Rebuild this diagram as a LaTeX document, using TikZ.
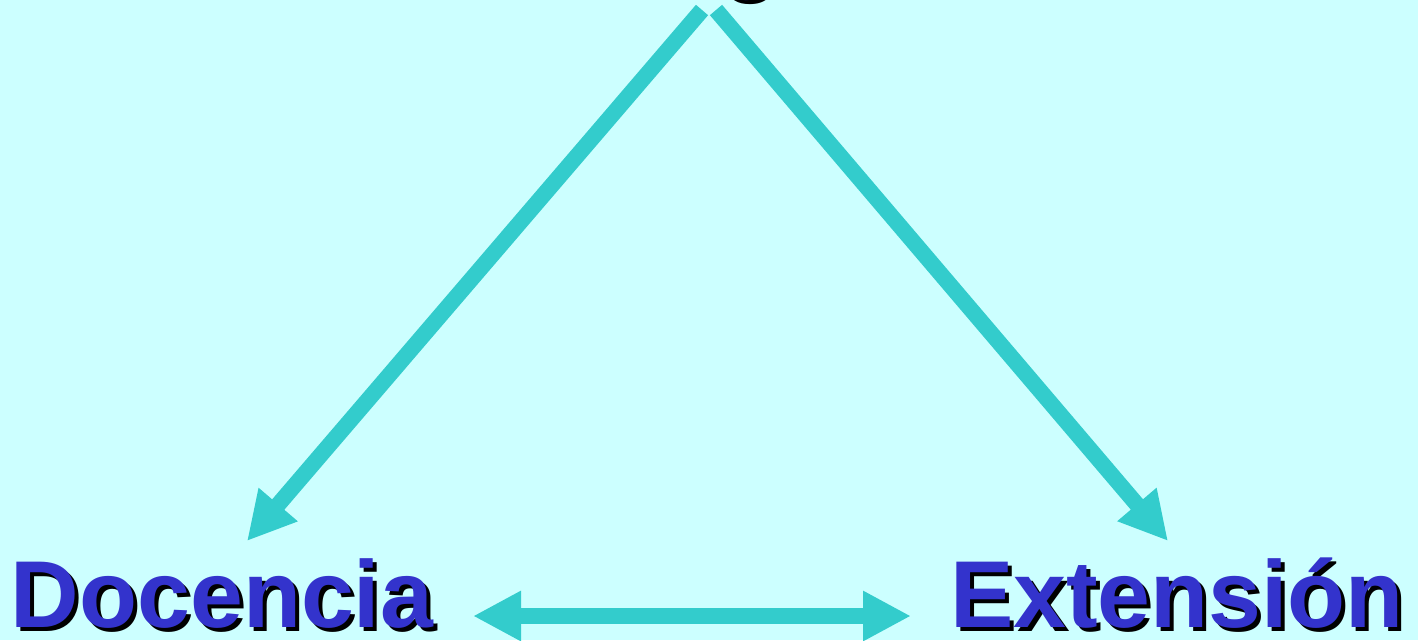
\documentclass[tikz,border=0pt]{standalone}
\usepackage{fontspec}
\setmainfont{Liberation Sans}
\usetikzlibrary{arrows.meta}
\definecolor{bgc}{HTML}{CCFFFF}
\definecolor{arrc}{HTML}{33CCCC}
\definecolor{txtc}{HTML}{3333CC}
\tikzset{
  conn/.style={draw=arrc, line width=16pt, -{Triangle[length=48pt,width=48pt]}},
  biconn/.style={draw=arrc, line width=16pt, {Triangle[length=48pt,width=47pt]}-{Triangle[length=48pt,width=47pt]}},
  lbl/.style={inner sep=0pt, anchor=base, font=\fontsize{95}{100}\selectfont\bfseries, text=txtc},
  lblshadow/.style={inner sep=0pt, anchor=base, font=\fontsize{95}{100}\selectfont\bfseries, text=black}
}
\begin{document}
\begin{tikzpicture}[x=1pt,y=-1pt]
\fill[bgc] (0,0) rectangle (1418,640);
\useasboundingbox (0,0) rectangle (1418,640);
\begin{scope}
\clip (0,0) rectangle (1418,640);
% labels with shadows
\node[lblshadow] (invS) at (725,-16) {Investigación};
\node[lbl] (inv) at (721,-20) {Investigación};
\node[lblshadow] (docS) at (226,631) {Docencia};
\node[lbl] (doc) at (222,627) {Docencia};
\node[lblshadow] (extS) at (1181,631) {Extensión};
\node[lbl] (ext) at (1177,627) {Extensión};
% connector end points
\coordinate (invL) at (702,10);
\coordinate (invR) at (716,10);
\coordinate (docTip) at (247,541);
\coordinate (extTip) at (1168,541);
\coordinate (hL) at (473,616);
\coordinate (hR) at (911,616);
\draw[conn] (invL) -- (docTip);
\draw[conn] (invR) -- (extTip);
\draw[biconn] (hL) -- (hR);
\end{scope}
\end{tikzpicture}
\end{document}
